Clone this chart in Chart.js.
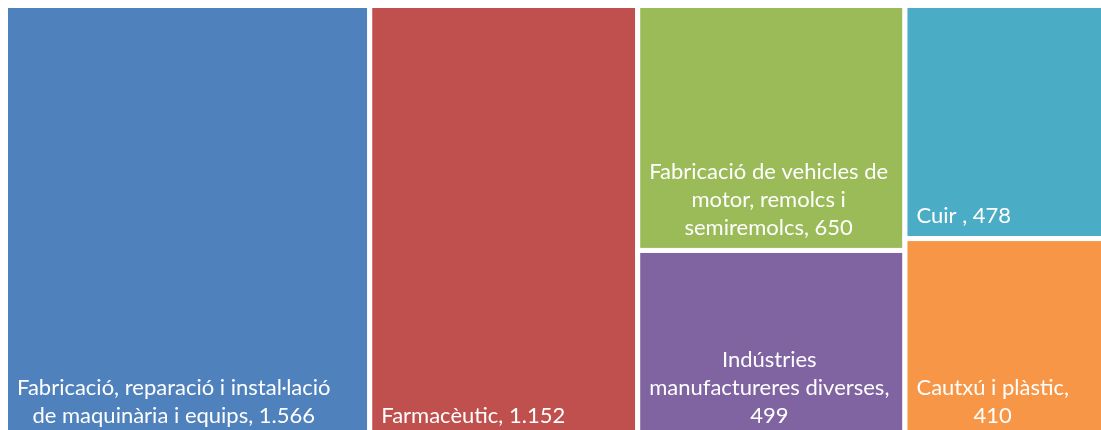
<!DOCTYPE html>
<html>
<head>
<meta charset="utf-8">
<script src="https://cdn.jsdelivr.net/npm/chart.js@4.4.1/dist/chart.umd.min.js"></script>
<style>
  html, body { margin: 0; padding: 0; background: #fff; overflow: hidden; }
  #wrap { width: 1117px; height: 444px; position: relative; }
</style>
</head>
<body>
<div id="wrap"><canvas id="treemapChart"></canvas></div>
<script>
// sectors (label lines as shown in the chart) and their values
const sectorLabels = [
    ['Fabricació, reparació i instal·lació', 'de maquinària i equips, 1.566'],
    ['Farmacèutic, 1.152'],
    ['Fabricació de vehicles de', 'motor, remolcs i', 'semiremolcs, 650'],
    ['Indústries', 'manufactureres diverses,', '499'],
    ['Cuir , 478'],
    ['Cautxú i plàstic,', '410']
];
const sectorValues = [1566, 1152, 650, 499, 478, 410];
const sectorColors = ['#4F81BD', '#C0504D', '#9BBB59', '#8064A2', '#4BACC6', '#F79646'];

// squarified layout in a w x h box, returns rects in the same units
function squarify(values, w, h) {
    const total = values.reduce((s, v) => s + v, 0);
    const areas = values.map(v => v / total * w * h);
    const rects = [];
    let x = 0, y = 0;
    let row = [];

    function worst(r, side) {
        const sum = r.reduce((s, a) => s + a, 0);
        const max = Math.max(...r), min = Math.min(...r);
        return Math.max(side * side * max / (sum * sum), (sum * sum) / (side * side * min));
    }

    function placeRow(r) {
        const sum = r.reduce((s, a) => s + a, 0);
        if (w >= h) {
            const colW = sum / h;
            let yy = y;
            r.forEach(a => {
                const hh = a / colW;
                rects.push({ x: x, y: yy, w: colW, h: hh });
                yy += hh;
            });
            x += colW; w -= colW;
        } else {
            const rowH = sum / w;
            let xx = x;
            r.forEach(a => {
                const ww = a / rowH;
                rects.push({ x: xx, y: y, w: ww, h: rowH });
                xx += ww;
            });
            y += rowH; h -= rowH;
        }
    }

    let i = 0;
    while (i < areas.length) {
        const side = Math.min(w, h);
        const cand = row.concat(areas[i]);
        if (row.length === 0 || worst(cand, side) <= worst(row, side)) {
            row = cand;
            i++;
        } else {
            placeRow(row);
            row = [];
        }
    }
    if (row.length) placeRow(row);
    return rects;
}

const treemapPlugin = {
    id: 'treemapCells',
    afterDraw(chart) {
        const ctx = chart.ctx;
        const xs = chart.scales.x;
        const ys = chart.scales.y;
        const area = chart.chartArea;
        const aspect = (area.right - area.left) / (area.bottom - area.top);

        // layout in a box with the same proportions as the chart area, then normalise to 0..1
        const cells = squarify(sectorValues, aspect, 1).map(r => ({
            x0: r.x / aspect, x1: (r.x + r.w) / aspect, y0: r.y, y1: r.y + r.h
        }));

        ctx.save();
        cells.forEach((c, i) => {
            const left = xs.getPixelForValue(c.x0);
            const right = xs.getPixelForValue(c.x1);
            const top = ys.getPixelForValue(c.y0);
            const bottom = ys.getPixelForValue(c.y1);

            ctx.fillStyle = sectorColors[i];
            ctx.fillRect(left, top, right - left, bottom - top);
            ctx.strokeStyle = '#ffffff';
            ctx.lineWidth = 5;
            ctx.strokeRect(left, top, right - left, bottom - top);

            // label: block anchored bottom-left, lines centred inside the block
            const lines = sectorLabels[i];
            ctx.font = '22px Lato';
            ctx.fillStyle = '#ffffff';
            ctx.textBaseline = 'alphabetic';
            ctx.textAlign = 'center';
            const blockW = Math.max(...lines.map(l => ctx.measureText(l).width));
            const cx = left + 2.5 + 9 + blockW / 2;
            const lineH = 28;
            let baseY = bottom - 2.5 - 13 - (lines.length - 1) * lineH;
            lines.forEach(l => {
                ctx.fillText(l, cx, baseY);
                baseY += lineH;
            });
        });
        ctx.restore();
    }
};

new Chart(document.getElementById('treemapChart'), {
    type: 'scatter',
    data: {
        labels: sectorLabels.map(l => l.join(' ')),
        datasets: [{ data: [] }]
    },
    options: {
        responsive: true,
        maintainAspectRatio: false,
        animation: false,
        layout: { padding: 5.5 },
        plugins: { legend: { display: false }, tooltip: { enabled: false } },
        scales: {
            x: { type: 'linear', min: 0, max: 1, display: false },
            y: { type: 'linear', min: 0, max: 1, reverse: true, display: false }
        }
    },
    plugins: [treemapPlugin]
});
</script>
</body>
</html>
